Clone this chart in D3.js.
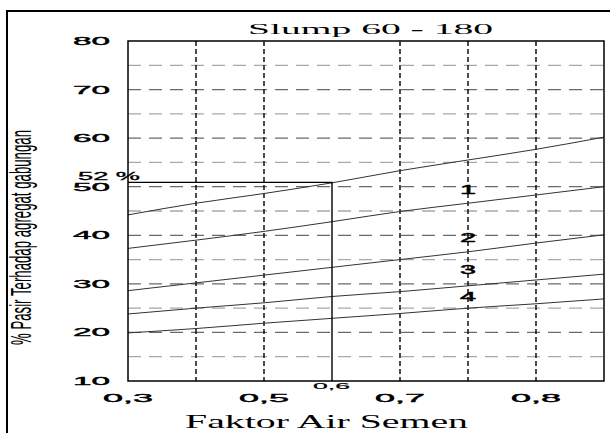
<!DOCTYPE html>
<html lang="id">
<head>
<meta charset="utf-8">
<title>Slump 60 - 180</title>
<script src="https://d3js.org/d3.v7.min.js"></script>
<style>
  body { margin: 0; background: #fff; }
</style>
</head>
<body>
<div id="stage"></div>
<script>
// faktor air semen grid positions (0.3 .. 1.0 on the drawn scale)
var fas = [0.3, 0.4, 0.5, 0.6, 0.7, 0.8, 0.9, 1.0];
// the five boundary curves, top to bottom (% pasir)
var curveA = [44.2, 46.6, 48.6, 50.8, 53.3, 55.5, 57.7, 60.2];
var curveB = [37.3, 39.0, 40.8, 42.8, 44.9, 46.6, 48.3, 50.0];
var curveC = [28.6, 30.2, 31.8, 33.4, 35.0, 36.6, 38.4, 40.1];
var curveD = [23.8, 25.0, 26.1, 27.4, 28.4, 29.6, 30.8, 32.0];
var curveE = [19.9, 20.8, 21.9, 22.9, 23.9, 25.0, 25.9, 26.9];
var curves = [curveA, curveB, curveC, curveD, curveE];

var yTicks = [10, 20, 30, 40, 50, 60, 70, 80];
var yGrid = [15, 20, 25, 30, 35, 40, 45, 50, 55, 60, 65, 70, 75];
var vGrid = [0.4, 0.5, 0.7, 0.8, 0.9];
var xTickVals = [0.3, 0.5, 0.7, 0.9];
var xTickText = ["0,3", "0,5", "0,7", "0,8"];

var zoneText = ["1", "2", "3", "4"];
var zoneY = [49.5, 39.6, 33.0, 27.3];
var zoneX = 0.8;

var markX = 0.6, markY = 50.9, markText = "52 %", markXText = "0,6";

var svg = d3.select("#stage").append("svg")
  .attr("width", 610).attr("height", 433);

var x = d3.scaleLinear().domain([0.3, 1.0]).range([128, 604]);
var y = d3.scaleLinear().domain([10, 80]).range([381, 41]);

// outer frame
svg.append("path").attr("d", "M7,433 V11 H612")
  .attr("fill", "none").attr("stroke", "#000").attr("stroke-width", 2);

// horizontal grid
svg.selectAll("line.hg").data(yGrid).enter().append("line")
  .attr("x1", x(0.3)).attr("x2", x(1.0))
  .attr("y1", function (d) { return y(d); }).attr("y2", function (d) { return y(d); })
  .attr("stroke", function (d) { return d % 10 == 0 ? "#6a6a6a" : "#a8a8a8"; })
  .attr("stroke-width", 1.3).attr("stroke-dasharray", "13,8");

// vertical dashed grid
svg.selectAll("line.vg").data(vGrid).enter().append("line")
  .attr("x1", function (d) { return x(d); }).attr("x2", function (d) { return x(d); })
  .attr("y1", y(80)).attr("y2", y(10))
  .attr("stroke", "#000").attr("stroke-width", 1.4).attr("stroke-dasharray", "5,3");

// curves
var line = d3.line()
  .x(function (d, i) { return x(fas[i]); })
  .y(function (d) { return y(d); })
  .curve(d3.curveMonotoneX);
svg.selectAll("path.curve").data(curves).enter().append("path")
  .attr("d", line).attr("fill", "none")
  .attr("stroke", "#333").attr("stroke-width", 1);

// reading line for 0,6 -> 52 %
svg.append("path")
  .attr("d", "M" + x(0.3) + "," + y(markY) + "H" + x(markX) + "V" + y(10))
  .attr("fill", "none").attr("stroke", "#000").attr("stroke-width", 1.4);

// plot border
svg.append("rect").attr("x", x(0.3)).attr("y", y(80))
  .attr("width", x(1.0) - x(0.3)).attr("height", y(10) - y(80))
  .attr("fill", "none").attr("stroke", "#000").attr("stroke-width", 1.5);

var sans = "'Liberation Sans', Arial, sans-serif";
var serif = "'Liberation Serif', 'Times New Roman', serif";

// y tick labels
svg.selectAll("text.yt").data(yTicks).enter().append("text")
  .attr("x", 73).attr("y", function (d) { return y(d) + 4; })
  .attr("textLength", 37).attr("lengthAdjust", "spacingAndGlyphs")
  .attr("font-family", sans).attr("font-size", 11.5)
  .attr("stroke", "#000").attr("stroke-width", 0.4)
  .text(function (d) { return d; });

// x tick labels
svg.selectAll("text.xt").data(xTickVals).enter().append("text")
  .attr("x", function (d) { return x(d) - 25; }).attr("y", 402)
  .attr("textLength", 50).attr("lengthAdjust", "spacingAndGlyphs")
  .attr("font-family", sans).attr("font-size", 11.5)
  .attr("stroke", "#000").attr("stroke-width", 0.4)
  .text(function (d, i) { return xTickText[i]; });

svg.append("text").attr("x", x(markX) - 19).attr("y", 389)
  .attr("textLength", 37).attr("lengthAdjust", "spacingAndGlyphs")
  .attr("font-family", sans).attr("font-size", 9)
  .attr("stroke", "#000").attr("stroke-width", 0.2)
  .text(markXText);

svg.append("text").attr("x", 78).attr("y", y(markY) - 2)
  .attr("textLength", 62).attr("lengthAdjust", "spacingAndGlyphs")
  .attr("font-family", sans).attr("font-size", 10.5)
  .attr("stroke", "#000").attr("stroke-width", 0.3)
  .text(markText);

// zone numbers
svg.selectAll("text.zone").data(zoneText).enter().append("text")
  .attr("x", x(zoneX) - 8).attr("y", function (d, i) { return y(zoneY[i]) + 4.5; })
  .attr("textLength", 16).attr("lengthAdjust", "spacingAndGlyphs")
  .attr("font-family", sans).attr("font-size", 12)
  .attr("stroke", "#000").attr("stroke-width", 0.5)
  .text(function (d) { return d; });

// title and axis titles
svg.append("text").attr("x", 248).attr("y", 34)
  .attr("textLength", 245).attr("lengthAdjust", "spacingAndGlyphs")
  .attr("font-family", serif).attr("font-size", 15)
  .text("Slump 60 - 180");

svg.append("text").attr("x", 185).attr("y", 428)
  .attr("textLength", 283).attr("lengthAdjust", "spacingAndGlyphs")
  .attr("font-family", serif).attr("font-size", 18)
  .text("Faktor Air Semen");

svg.append("text")
  .attr("transform", "translate(31,345) rotate(-90) scale(1,2.1)")
  .attr("textLength", 215).attr("lengthAdjust", "spacingAndGlyphs")
  .attr("font-family", sans).attr("font-size", 14)
  .text("% Pasir Terhadap agregat gabungan");
</script>
</body>
</html>
